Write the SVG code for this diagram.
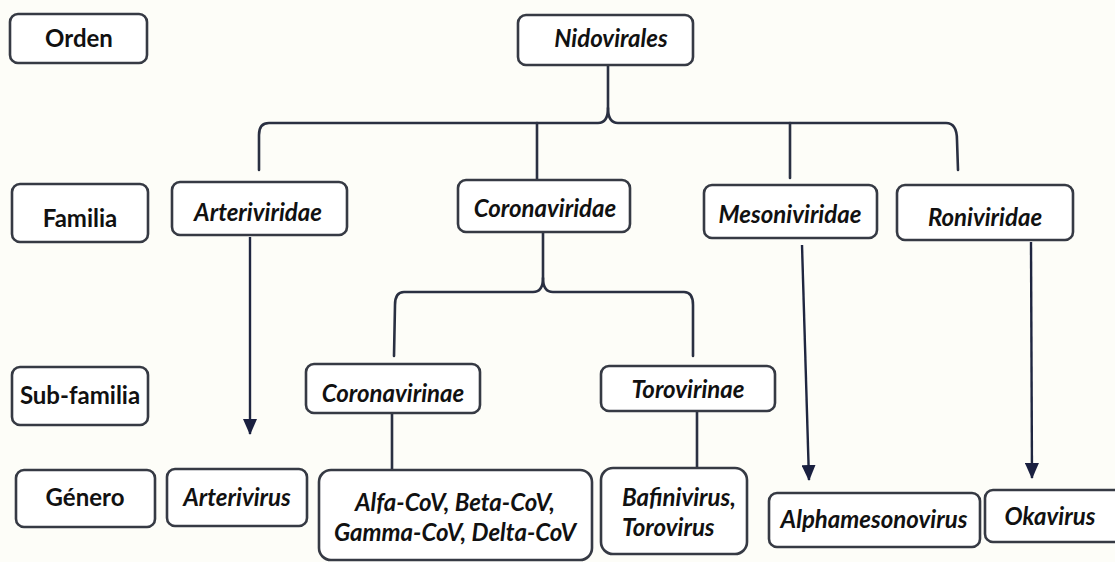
<svg xmlns="http://www.w3.org/2000/svg" width="1115" height="562" viewBox="0 0 1115 562">
<style>
.bg{fill:#fdfdf8}
.box{fill:#ffffff;stroke:#363a44;stroke-width:2.6}
.t{font-family:Lato,"Liberation Sans",sans-serif;font-weight:bold;font-size:24px;fill:#111;text-anchor:middle}
.i{font-style:italic}
.ln{fill:none;stroke:#2a3042;stroke-width:2.6;stroke-linecap:round;stroke-linejoin:round}
.ar{fill:none;stroke:#1f2640;stroke-width:2.4}
</style>
<defs>
<marker id="ah" viewBox="0 0 16 14" refX="15" refY="7" markerWidth="16" markerHeight="14" markerUnits="userSpaceOnUse" orient="auto">
<path d="M0,0 L16,7 L0,14 z" fill="#1a2040"/>
</marker>
</defs>
<rect class="bg" x="0" y="0" width="1115" height="562"/>
<g id="connectors">
<path class="ln" d="M608,65 L608,108 Q608,123 598,123 L269,123 Q259,123 259,135 L259,170"/>
<path class="ln" d="M608,108 Q608,123 618,123 L946,123 Q957,123 957,140 L958,170"/>
<path class="ln" d="M537,123 L537,180"/>
<path class="ln" d="M790,123 L790,178"/>
<path class="ln" d="M543,232 L543,278 Q543,292 533,292 L404,292 Q395,292 395,305 L394,356"/>
<path class="ln" d="M543,278 Q543,292 553,292 L684,292 Q693,292 693,305 L693,356"/>
<path class="ln" d="M392,413 L392,470"/>
<path class="ln" d="M697,411 L697,467"/>
<path class="ar" d="M250,237 L250,434" marker-end="url(#ah)"/>
<path class="ar" d="M802,245 L809,480" marker-end="url(#ah)"/>
<path class="ar" d="M1031,242 L1032,478" marker-end="url(#ah)"/>
</g>
<g id="orden"><rect class="box" x="10" y="14" width="137" height="49" rx="8"/><text class="t" x="79" y="47">Orden</text></g>
<g id="nidovirales"><rect class="box" x="518" y="15" width="175" height="50" rx="8"/><text class="t i" x="611" y="47">Nidovirales</text></g>
<g id="familia"><rect class="box" x="12" y="184" width="136" height="58" rx="8"/><text class="t" x="80" y="227">Familia</text></g>
<g id="arteriviridae"><rect class="box" x="172" y="182" width="175" height="53" rx="8"/><text class="t i" x="258" y="221">Arteriviridae</text></g>
<g id="coronaviridae"><rect class="box" x="458" y="180" width="172" height="52" rx="8"/><text class="t i" x="545" y="217">Coronaviridae</text></g>
<g id="mesoniviridae"><rect class="box" x="704" y="185" width="173" height="53" rx="8"/><text class="t i" x="790" y="223">Mesoniviridae</text></g>
<g id="roniviridae"><rect class="box" x="897" y="185" width="176" height="55" rx="8"/><text class="t i" x="985" y="226">Roniviridae</text></g>
<g id="subfamilia"><rect class="box" x="12" y="367" width="136" height="58" rx="8"/><text class="t" x="80" y="404">Sub-familia</text></g>
<g id="coronavirinae"><rect class="box" x="306" y="364" width="174" height="49" rx="8"/><text class="t i" x="393" y="402">Coronavirinae</text></g>
<g id="torovirinae"><rect class="box" x="601" y="366" width="174" height="45" rx="8"/><text class="t i" x="688" y="398">Torovirinae</text></g>
<g id="genero"><rect class="box" x="16" y="470" width="139" height="57" rx="8"/><text class="t" x="85" y="506">Género</text></g>
<g id="arterivirus"><rect class="box" x="167" y="469" width="140" height="57" rx="8"/><text class="t i" x="237" y="506">Arterivirus</text></g>
<g id="cov"><rect class="box" x="319" y="470" width="273" height="90" rx="12"/><text class="t i" x="455" y="511">Alfa-CoV, Beta-CoV,</text><text class="t i" x="455" y="541">Gamma-CoV, Delta-CoV</text></g>
<g id="bafinivirus"><rect class="box" x="601" y="468" width="146" height="86" rx="12"/><text class="t i" x="622" y="506" style="text-anchor:start">Bafinivirus,</text><text class="t i" x="622" y="536" style="text-anchor:start">Torovirus</text></g>
<g id="alphamesonovirus"><rect class="box" x="769" y="493" width="211" height="54" rx="8"/><text class="t i" x="874" y="528">Alphamesonovirus</text></g>
<g id="okavirus"><rect class="box" x="985" y="490" width="140" height="52" rx="8"/><text class="t i" x="1050" y="525">Okavirus</text></g>
</svg>
